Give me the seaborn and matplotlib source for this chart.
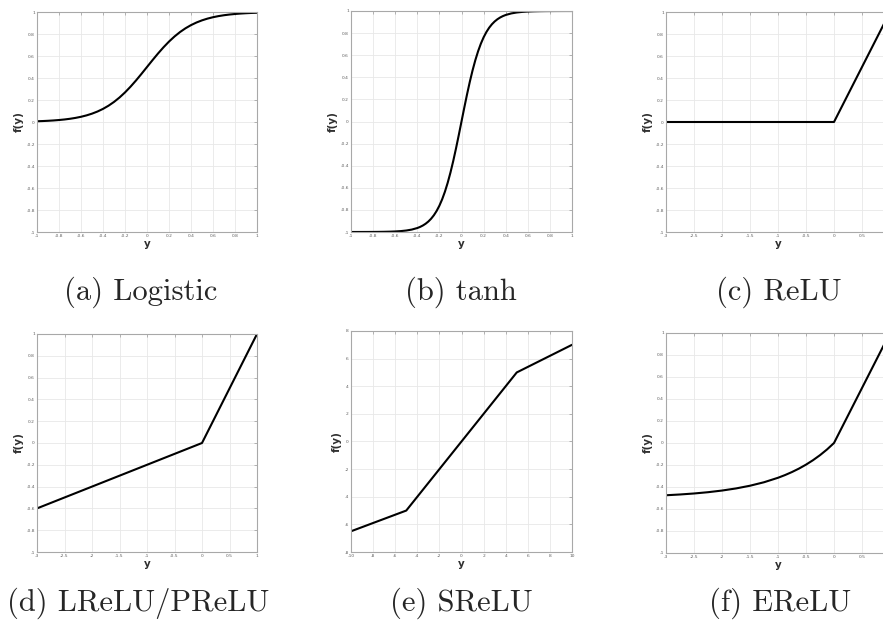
import numpy as np
import pandas as pd
import matplotlib
matplotlib.use("Agg")
import matplotlib.pyplot as plt
import seaborn as sns

# ---------------- data ----------------
logistic_x = [-1.0, -0.95, -0.9, -0.85, -0.8, -0.75, -0.7, -0.65, -0.6, -0.55, -0.5,
              -0.45, -0.4, -0.35, -0.3, -0.25, -0.2, -0.15, -0.1, -0.05, 0.0,
              0.05, 0.1, 0.15, 0.2, 0.25, 0.3, 0.35, 0.4, 0.45, 0.5,
              0.55, 0.6, 0.65, 0.7, 0.75, 0.8, 0.85, 0.9, 0.95, 1.0]
logistic_y = [0.0067, 0.00858, 0.0110, 0.01406, 0.0180, 0.02298, 0.0293, 0.03732, 0.0474, 0.06008, 0.0759,
              0.09535, 0.1192, 0.14804, 0.1824, 0.2227, 0.2689, 0.32082, 0.3775, 0.43782, 0.5,
              0.56218, 0.6225, 0.67918, 0.7311, 0.7773, 0.8176, 0.85196, 0.8808, 0.90465, 0.9241,
              0.93992, 0.9526, 0.96268, 0.9707, 0.97702, 0.9820, 0.98594, 0.9890, 0.99142, 0.9933]

tanh_x = [-1.0, -0.95, -0.9, -0.85, -0.8, -0.75, -0.7, -0.65, -0.6, -0.55, -0.5,
          -0.45, -0.4, -0.375, -0.35, -0.325, -0.3, -0.275, -0.25, -0.225, -0.2,
          -0.175, -0.15, -0.125, -0.1, -0.075, -0.05, -0.025, 0.0,
          0.025, 0.05, 0.075, 0.1, 0.125, 0.15, 0.175, 0.2, 0.225, 0.25,
          0.275, 0.3, 0.325, 0.35, 0.375, 0.4, 0.45, 0.5,
          0.55, 0.6, 0.65, 0.7, 0.75, 0.8, 0.85, 0.9, 0.95, 1.0]
tanh_y = [-0.9999, -0.99985, -0.99975, -0.99959, -0.99933, -0.9989, -0.99818, -0.997, -0.99505, -0.99186, -0.98661,
          -0.97803, -0.96403, -0.95404, -0.94138, -0.92535, -0.90515, -0.87981, -0.84828, -0.80931, -0.76159,
          -0.70392, -0.63515, -0.55457, -0.46212, -0.35835, -0.24492, -0.12435, 0.0,
          0.12435, 0.24492, 0.35835, 0.46212, 0.55457, 0.63515, 0.70392, 0.76159, 0.80931, 0.84828,
          0.87981, 0.90515, 0.92535, 0.94138, 0.95404, 0.96403, 0.97803, 0.98661,
          0.99186, 0.99505, 0.997, 0.99818, 0.9989, 0.99933, 0.99959, 0.99975, 0.99985, 0.9999]

relu_x = [-3.0, 0.0, 1.0]
relu_y = [0.0, 0.0, 1.0]

lrelu_x = [-3.0, 0.0, 1.0]
lrelu_y = [-0.6, 0.0, 1.0]

srelu_x = [-10.0, -5.0, 5.0, 10.0]
srelu_y = [-6.5, -5.0, 5.0, 7.0]

erelu_x = [-3.0, -2.75, -2.5, -2.25, -2.0, -1.75, -1.5, -1.25, -1.0, -0.875, -0.75, -0.625,
           -0.5, -0.375, -0.25, -0.125, 0.0, 1.0]
erelu_y = [-0.4751, -0.468, -0.459, -0.4473, -0.4323, -0.4131, -0.3884, -0.3568, -0.3161, -0.2916,
           -0.2638, -0.2324, -0.1967, -0.1563, -0.1106, -0.0588, 0.0, 1.0]

captions = ["(a) Logistic", "(b) tanh", "(c) ReLU",
            "(d) LReLU/PReLU", "(e) SReLU", "(f) EReLU"]

x_ticks = [
    [-1, -0.8, -0.6, -0.4, -0.2, 0, 0.2, 0.4, 0.6, 0.8, 1],
    [-1, -0.8, -0.6, -0.4, -0.2, 0, 0.2, 0.4, 0.6, 0.8, 1],
    [-3, -2.5, -2, -1.5, -1, -0.5, 0, 0.5, 1],
    [-3, -2.5, -2, -1.5, -1, -0.5, 0, 0.5, 1],
    [-10, -8, -6, -4, -2, 0, 2, 4, 6, 8, 10],
    [-3, -2.5, -2, -1.5, -1, -0.5, 0, 0.5, 1],
]
y_ticks = [
    [-1, -0.8, -0.6, -0.4, -0.2, 0, 0.2, 0.4, 0.6, 0.8, 1],
    [-1, -0.8, -0.6, -0.4, -0.2, 0, 0.2, 0.4, 0.6, 0.8, 1],
    [-1, -0.8, -0.6, -0.4, -0.2, 0, 0.2, 0.4, 0.6, 0.8, 1],
    [-1, -0.8, -0.6, -0.4, -0.2, 0, 0.2, 0.4, 0.6, 0.8, 1],
    [-8, -6, -4, -2, 0, 2, 4, 6, 8],
    [-1, -0.8, -0.6, -0.4, -0.2, 0, 0.2, 0.4, 0.6, 0.8, 1],
]

series = [(logistic_x, logistic_y), (tanh_x, tanh_y), (relu_x, relu_y),
          (lrelu_x, lrelu_y), (srelu_x, srelu_y), (erelu_x, erelu_y)]

# ---------------- style ----------------
sns.set_style("whitegrid")
plt.rcParams['font.family'] = ['DejaVu Sans']

W, H = 883, 629
fig = plt.figure(figsize=(W / 100, H / 100), dpi=100)

# axes boxes in pixels: left, top, width, height
boxes = [(37, 12, 220, 220), (351, 11, 221, 221), (666, 12, 224, 220),
         (37, 334, 220, 218), (351, 331, 221, 221), (666, 333, 224, 220)]

caption_pos = [(141, 292), (461, 292), (779, 292),
               (138, 603), (461, 603), (780, 603)]

def fmt(v):
    if float(v).is_integer():
        return str(int(v))
    return ("%g" % v)

for i, ((xs, ys), box) in enumerate(zip(series, boxes)):
    l, t, w, h = box
    ax = fig.add_axes([l / W, 1 - (t + h) / H, w / W, h / H])
    df = pd.DataFrame({"y": xs, "f": ys})
    sns.lineplot(data=df, x="y", y="f", ax=ax, color="black", linewidth=1.5,
                 sort=False, estimator=None)
    xt, yt = x_ticks[i], y_ticks[i]
    ax.set_xlim(xt[0], xt[-1])
    ax.set_ylim(yt[0], yt[-1])
    ax.set_xticks(xt)
    ax.set_yticks(yt)
    ax.set_xticklabels([fmt(v) for v in xt])
    ax.set_yticklabels([fmt(v) for v in yt])
    ax.grid(True, color="#e8e8e8", linewidth=0.6)
    for s in ax.spines.values():
        s.set_color("#a8a8a8")
        s.set_linewidth(0.8)
    ax.tick_params(axis="both", which="both", direction="in", length=2.5, width=0.6,
                   colors="#a8a8a8", labelsize=3.2, labelcolor="#606060",
                   top=True, right=True, pad=1.5)
    ax.set_xlabel("y", fontsize=7.5, fontweight="bold", color="#303030", labelpad=0.5)
    ax.set_ylabel("f(y)", fontsize=7.5, fontweight="bold", color="#303030", labelpad=2)

    cx, cy = caption_pos[i]
    fig.text(cx / W, 1 - cy / H, captions[i], ha="center", va="center",
             fontsize=22, family="cmr10")

fig.savefig("out.png", dpi=100)
